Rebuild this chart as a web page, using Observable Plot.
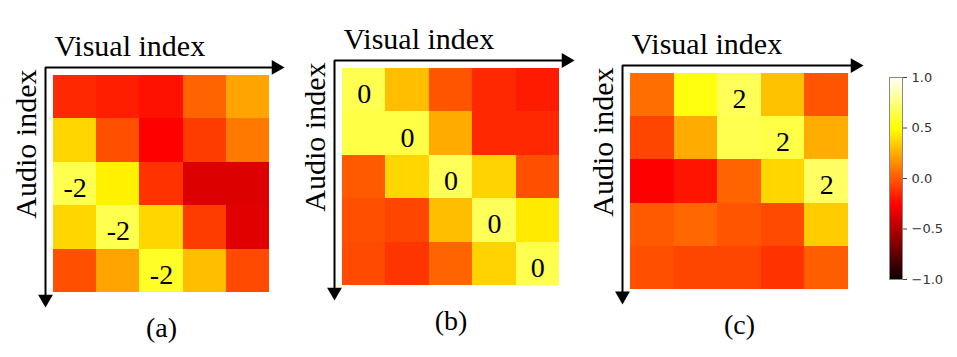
<!DOCTYPE html>
<html><head><meta charset="utf-8">
<script src="https://cdn.jsdelivr.net/npm/d3@7"></script>
<script src="https://cdn.jsdelivr.net/npm/@observablehq/plot@0.6"></script>
<style>
html,body{margin:0;padding:0;background:#fff;}
#chart{position:relative;width:957px;height:357px;overflow:hidden;background:#fff;}
#chart > svg{position:absolute;top:0;}
</style></head><body><div id="chart"></div>
<script>
// ---- data ----
const visualIdx = [0, 1, 2, 3, 4];
const audioIdx = [0, 1, 2, 3, 4];
const valuesA = [
  [-0.15, -0.18, -0.22, 0.03, 0.22],
  [0.37, -0.03, -0.27, -0.09, 0.09],
  [0.65, 0.45, -0.12, -0.37, -0.37],
  [0.37, 0.65, 0.37, -0.09, -0.36],
  [-0.03, 0.22, 0.57, 0.30, -0.05]
];
const valuesB = [
  [0.65, 0.30, -0.02, -0.15, -0.19],
  [0.63, 0.63, 0.24, -0.15, -0.15],
  [0.00, 0.37, 0.67, 0.36, -0.03],
  [-0.03, -0.06, 0.30, 0.67, 0.43],
  [-0.05, -0.11, 0.03, 0.36, 0.65]
];
const valuesC = [
  [0.06, 0.52, 0.67, 0.31, -0.02],
  [-0.06, 0.24, 0.65, 0.63, 0.25],
  [-0.27, -0.21, 0.03, 0.37, 0.69],
  [0.00, 0.04, -0.02, -0.05, 0.34],
  [-0.03, -0.06, -0.06, -0.12, 0.01]
];
// annotated cells [audio, visual] and their labels
const annotA = [[2, 0], [3, 1], [4, 2]];
const annotB = [[0, 0], [1, 1], [2, 2], [3, 3], [4, 4]];
const annotC = [[0, 2], [1, 3], [2, 4]];
const annotLabels = ["-2", "0", "2"];
const captions = ["(a)", "(b)", "(c)"];
const titleX = "Visual index";
const titleY = "Audio index";
const colorDomain = [-1, 1];
const colorTicks = [-1, -0.5, 0, 0.5, 1];

// matplotlib "hot" colormap
function hot(t) {
  const c = (x) => Math.max(0, Math.min(1, x));
  const r = c(0.0416 + (1 - 0.0416) * t / 0.365079);
  const g = c((t - 0.365079) / (0.746032 - 0.365079));
  const b = c((t - 0.746032) / (1 - 0.746032));
  return d3.rgb(r * 255, g * 255, b * 255).formatRgb();
}
const colorScale = {type: "linear", domain: colorDomain, interpolate: hot};
const serif = "'Times New Roman', 'Liberation Serif', serif";

function panel(values, annot, label, caption, box) {
  const n = visualIdx.length;
  const cells = values.flatMap((row, i) => row.map((v, j) => ({audio: audioIdx[i], visual: visualIdx[j], v})));
  const cellPx = (box.w - box.ml - box.mr) / n;
  const gap = 8 / cellPx, over = 15 / cellPx, head = 8 / cellPx;
  const axisPath = [
    {x: n + over - head, y: -gap},
    {x: -gap, y: -gap},
    {x: -gap, y: n + over - head}
  ];
  const svg = Plot.plot({
    width: box.w, height: 357,
    marginLeft: box.ml, marginRight: box.mr, marginTop: box.mt, marginBottom: box.mb,
    style: {fontFamily: serif, background: "transparent", overflow: "visible"},
    x: {domain: [0, n], axis: null},
    y: {domain: [0, n], axis: null, reverse: true},
    color: colorScale,
    marks: [
      Plot.rect(cells, {x1: d => d.visual, x2: d => d.visual + 1, y1: d => d.audio, y2: d => d.audio + 1, fill: "v", shapeRendering: "crispEdges"}),
      Plot.text(annot, {x: d => d[1] + 0.5, y: d => d[0] + 0.5, text: () => label, fontSize: 28, dy: 4, fill: "#000"}),
      Plot.line(axisPath, {x: "x", y: "y", stroke: "#000", strokeWidth: 2, strokeLinejoin: "miter"}),
      Plot.dot([{x: n + over, y: -gap}], {x: "x", y: "y", symbol: "triangle", r: 5.5, rotate: 90, fill: "#000", stroke: "none", dx: -8.5}),
      Plot.dot([{x: -gap, y: n + over}], {x: "x", y: "y", symbol: "triangle", r: 5.5, rotate: 180, fill: "#000", stroke: "none", dy: -8.5}),
      Plot.text([titleX], {frameAnchor: "top-left", textAnchor: "start", lineAnchor: "bottom", dx: 1, dy: -20, fontSize: 30, fill: "#000"}),
      Plot.text([titleY], {frameAnchor: "top-left", rotate: -90, textAnchor: "end", lineAnchor: "bottom", dx: -18, dy: -6, fontSize: 30, fill: "#000"}),
      Plot.text([caption], {frameAnchor: "bottom", lineAnchor: "bottom", dy: 44, fontSize: 28, fill: "#000"})
    ]
  });
  svg.style.left = box.left + "px";
  return svg;
}

const chart = document.getElementById("chart");
chart.append(panel(valuesA, annotA, annotLabels[0], captions[0], {left: 0, w: 300, ml: 53, mr: 31, mt: 75, mb: 65}));
chart.append(panel(valuesB, annotB, annotLabels[1], captions[1], {left: 290, w: 300, ml: 52, mr: 31, mt: 68, mb: 72}));
chart.append(panel(valuesC, annotC, annotLabels[2], captions[2], {left: 578, w: 300, ml: 52, mr: 30, mt: 73, mb: 68}));

// colorbar
const step = 0.01;
const gradient = d3.range(colorDomain[0], colorDomain[1], step);
const bar = Plot.plot({
  width: 97, height: 357,
  marginLeft: 29, marginRight: 55, marginTop: 77, marginBottom: 78,
  style: {fontFamily: "'DejaVu Sans', sans-serif", fontSize: "13px", background: "transparent", overflow: "visible"},
  y: {domain: colorDomain},
  color: colorScale,
  marks: [
    Plot.rect(gradient, {y1: d => d, y2: d => d + step, fill: d => d + step / 2, shapeRendering: "crispEdges"}),
    Plot.frame({stroke: "#888"}),
    Plot.axisY(colorTicks, {anchor: "right", tickFormat: d3.format(".1f"), tickSize: 4, tickPadding: 5, label: null, stroke: "#444", fill: "#333", fontSize: 13})
  ]
});
bar.style.left = "860px";
chart.append(bar);
</script>
</body></html>
